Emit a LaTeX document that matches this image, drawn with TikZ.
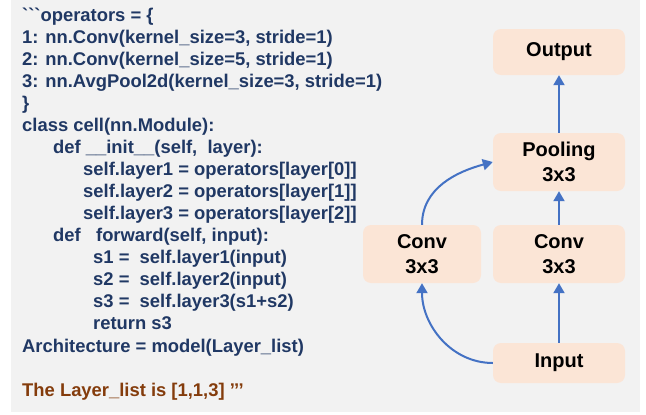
\documentclass[tikz,border=0pt]{standalone}
\usepackage{fontspec}
\setmainfont{Liberation Sans}[Ligatures=TeXOff]
\usetikzlibrary{arrows.meta}
\definecolor{bggray}{HTML}{F2F2F2}
\definecolor{codeblue}{HTML}{203864}
\definecolor{notebrown}{HTML}{843C0C}
\definecolor{peach}{HTML}{FBE5D6}
\definecolor{flowblue}{HTML}{4472C4}
\tikzset{
  codeline/.style={anchor=base west, inner sep=0pt, text=codeblue,
    font=\fontsize{18.4}{22}\selectfont\bfseries},
  block/.style={fill=peach, rounded corners=8pt, align=center, inner sep=0pt,
    font=\fontsize{20}{25}\selectfont\bfseries},
  flow/.style={draw=flowblue, line width=2pt, -{Triangle[length=10pt,width=11pt]}}
}

\begin{document}
\begin{tikzpicture}[x=1pt,y=-1pt]
			%%%%% FRAME %%%%%
			\useasboundingbox (0, 0) rectangle (646, 415);
			\fill[white] (0, 0) rectangle (646, 415);
			\fill[bggray] (11, 0) rectangle (640, 412);
			
			%%%%% CODE %%%%%
			\node[codeline] (ops) at (22, 21) {```operators = \{};
			\node[codeline] (op1) at (22, 43) {1: nn.Conv(kernel\_size=3, stride=1)};
			\node[codeline] (op2) at (22, 65) {2: nn.Conv(kernel\_size=5, stride=1)};
			\node[codeline] (op3) at (22, 87) {3: nn.AvgPool2d(kernel\_size=3, stride=1)};
			\node[codeline] (opsend) at (22, 109) {\}};
			\node[codeline] (cls) at (22, 131) {class cell(nn.Module):};
			\node[codeline] (init) at (53, 153) {def \_\_init\_\_(self,~ layer):};
			\node[codeline] (lay1) at (83, 175) {self.layer1 = operators[layer[0]]};
			\node[codeline] (lay2) at (83, 197) {self.layer2 = operators[layer[1]]};
			\node[codeline] (lay3) at (83, 219) {self.layer3 = operators[layer[2]]};
			\node[codeline] (fwd) at (53, 241) {def~~ forward(self, input):};
			\node[codeline] (s1) at (93, 263) {s1 =~ self.layer1(input)};
			\node[codeline] (s2) at (93, 285) {s2 =~ self.layer2(input)};
			\node[codeline] (s3) at (93, 307) {s3 =~ self.layer3(s1+s2)};
			\node[codeline] (ret) at (93, 329) {return s3};
			\node[codeline] (arch) at (22, 352) {Architecture = model(Layer\_list)};
			\node[codeline, text=notebrown] (note) at (22, 396) {The Layer\_list is [1,1,3] ’’’};
			
			%%%%% CELL %%%%%
			\node[block, minimum width=132pt, minimum height=46pt] (output) at (559, 52) {Output};
			\node[block, minimum width=132pt, minimum height=58pt] (pool) at (559, 162) {Pooling\\3x3};
			\node[block, minimum width=132pt, minimum height=58pt] (convb) at (559, 254) {Conv\\3x3};
			\node[block, minimum width=118pt, minimum height=58pt] (conva) at (422, 254) {Conv\\3x3};
			\node[block, minimum width=132pt, minimum height=40pt] (input) at (559, 363) {Input};
			
			\draw[flow] (input.north) -- (convb.south);
			\draw[flow] (convb.north) -- (pool.south);
			\draw[flow] (pool.north) -- (output.south);
			\draw[flow] (input.west) to[out=180, in=-90] (conva.south);
			\draw[flow] (conva.north) to[out=90, in=195] (pool.west);
			
			%%%%% END %%%%%
\end{tikzpicture}
\end{document}
